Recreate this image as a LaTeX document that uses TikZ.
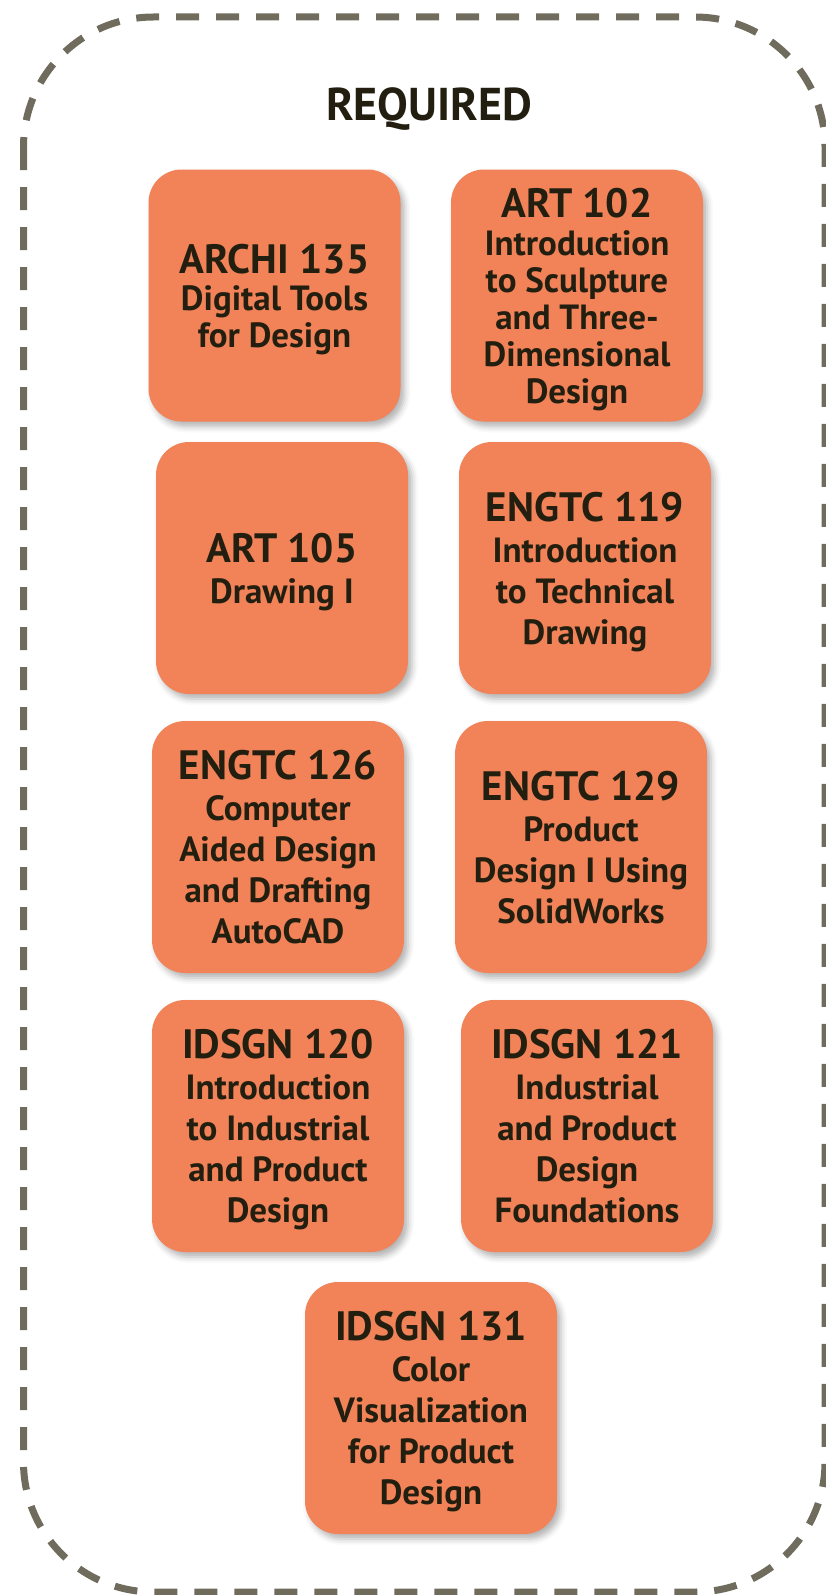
\documentclass[tikz,border=0pt]{standalone}
\usepackage{fontspec}
\setmainfont{PT Sans}
\usetikzlibrary{shadows.blur}
\definecolor{boxfill}{RGB}{242,130,88}
\definecolor{ink}{RGB}{35,31,16}
\definecolor{framecol}{RGB}{111,108,94}
\newcommand{\codefont}{\fontsize{41}{41}\selectfont\bfseries}
\begin{document}
\begin{tikzpicture}[x=1pt,y=-1pt,
  course/.style={rounded corners=33pt, fill=boxfill, minimum width=252pt, minimum height=252pt,
    align=center, text=ink, font=\fontsize{35}{41}\selectfont\bfseries, inner sep=0pt, text depth=0pt,
    blur shadow={shadow xshift=4pt, shadow yshift=-5pt, shadow blur radius=6pt, shadow opacity=30}},
  tight/.style={font=\fontsize{35}{37}\selectfont\bfseries},
  heading/.style={text=ink, font=\fontsize{46}{50}\selectfont\bfseries, inner sep=0pt, anchor=base},
  frameline/.style={draw=framecol, line width=7pt, dash pattern=on 23pt off 17pt, rounded corners=130pt}
]
\useasboundingbox (0,0) rectangle (826,1595);
\draw[frameline] (23.5,17) rectangle (825,1592);
\node[heading] (title) at (429,120) {REQUIRED};
\node[course,tight] (archi135) at (274.5,295.5) {{\codefont ARCHI 135}\\Digital Tools\\for Design};
\node[course,tight] (art102) at (577,295.5) {{\codefont ART 102}\\[1pt]Introduction\\to Sculpture\\and Three-\\Dimensional\\Design};
\node[course] (art105) at (282,568) {{\codefont ART 105}\\Drawing I};
\node[course] (engtc119) at (585,568) {{\codefont ENGTC 119}\\Introduction\\to Technical\\Drawing};
\node[course] (engtc126) at (278,847) {{\codefont ENGTC 126}\\Computer\\Aided Design\\and Drafting\\AutoCAD};
\node[course] (engtc129) at (581,847) {{\codefont ENGTC 129}\\Product\\Design I Using\\SolidWorks};
\node[course] (idsgn120) at (278,1126) {{\codefont IDSGN 120}\\Introduction\\to Industrial\\and Product\\Design};
\node[course] (idsgn121) at (587,1126) {{\codefont IDSGN 121}\\Industrial\\and Product\\Design\\Foundations};
\node[course] (idsgn131) at (431,1408) {{\codefont IDSGN 131}\\Color\\Visualization\\for Product\\Design};
\end{tikzpicture}
\end{document}
